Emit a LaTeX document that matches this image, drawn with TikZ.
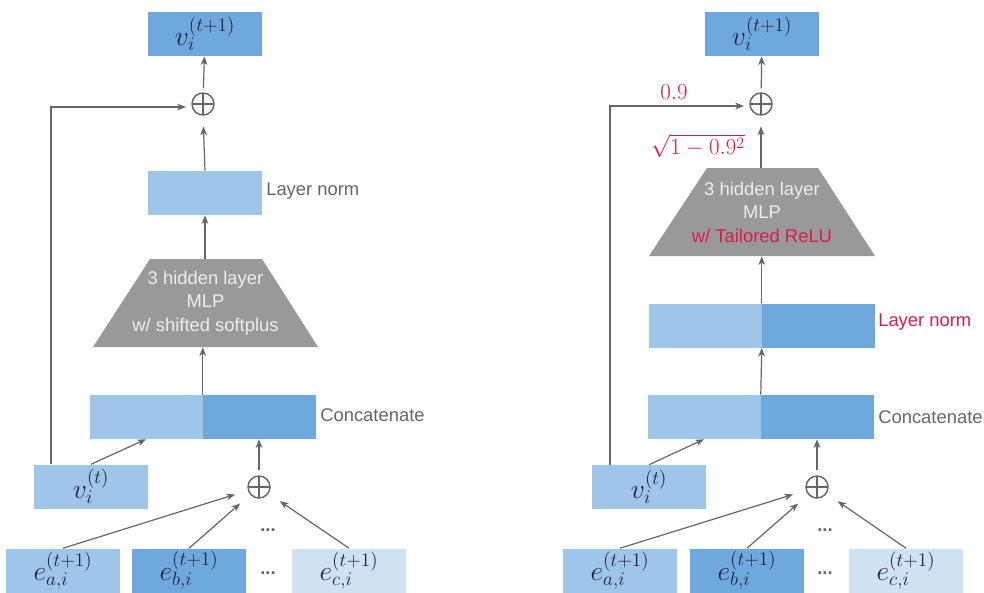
\documentclass[tikz,border=0pt]{standalone}
\usepackage[no-math]{fontspec}
\newfontfamily\labelfont{Liberation Sans}
\usetikzlibrary{arrows.meta}

\definecolor{dkblue}{HTML}{6FA8DC}
\definecolor{ltblue}{HTML}{9FC5E8}
\definecolor{paleblue}{HTML}{CFE2F3}
\definecolor{mlpgray}{HTML}{999999}
\definecolor{linegray}{HTML}{666666}
\definecolor{mathnavy}{HTML}{1C2440}
\definecolor{hlred}{HTML}{DC1A48}

\DeclareMathSizes{21.6}{21.6}{14.6}{12}

\tikzset{
  box/.style={rectangle, inner sep=0pt, minimum width=85.5pt, minimum height=33pt},
  halfbox/.style={rectangle, inner sep=0pt, minimum width=84.75pt, minimum height=33pt},
  mathtxt/.style={text=mathnavy, font=\fontsize{21.6}{26}\selectfont},
  redmath/.style={text=hlred, font=\fontsize{17.28}{21}\selectfont, inner sep=0pt},
  lbl/.style={text=linegray, font=\labelfont\fontsize{13.8}{16}\selectfont, anchor=west, inner sep=0pt},
  sum/.style={circle, draw=linegray, line width=1.1pt, minimum size=16.5pt, inner sep=0pt,
    path picture={
      \draw[linegray, line width=1.1pt] (path picture bounding box.north) -- (path picture bounding box.south);
      \draw[linegray, line width=1.1pt] (path picture bounding box.west) -- (path picture bounding box.east);
    }},
  mlptxt/.style={rectangle, minimum width=84pt, minimum height=66pt, inner sep=0pt, align=center,
    text=white!93!black, font=\labelfont\fontsize{13.8}{17.6}\selectfont},
  conn/.style={draw=linegray, line width=0.9pt, -{Stealth[length=6.5pt, width=5pt, inset=1.8pt]}},
  dots/.style={text=linegray, font=\labelfont\bfseries\fontsize{13.8}{16}\selectfont, inner sep=0pt},
}

\begin{document}
\begin{tikzpicture}[x=0.75pt, y=-0.75pt]
  \useasboundingbox (0,0) rectangle (984,592);

  % left panel
  \node[box, fill=dkblue, mathtxt] (vtopL) at (205,34) {$v_i^{(t+1)}$};
  \node[sum] (sumtL) at (203,104) {};
  \node[box, fill=ltblue] (lnL) at (205,193) {};
  \node[lbl] (lnlblL) at (266,191) {Layer norm};
  \fill[mlpgray] (150,259) -- (262,259) -- (318,347) -- (93,347) -- cycle;
  \node[mlptxt] (mlpL) at (205.5,303) {3 hidden layer\\MLP\\w/ shifted softplus};
  \node[halfbox, fill=ltblue] (cataL) at (146,417) {};
  \node[halfbox, fill=dkblue] (catbL) at (259,417) {};
  \node[lbl] (catlblL) at (320,415) {Concatenate};
  \node[box, fill=ltblue, mathtxt] (vtL) at (91,486.5) {$v_i^{(t)}$};
  \node[sum] (sumbL) at (259,487) {};
  \node[box, fill=ltblue, mathtxt] (eaL) at (63,570.5) {$e_{a,i}^{(t+1)}$};
  \node[box, fill=dkblue, mathtxt] (ebL) at (189,570.5) {$e_{b,i}^{(t+1)}$};
  \node[box, fill=paleblue, mathtxt] (ecL) at (349,570.5) {$e_{c,i}^{(t+1)}$};
  \node[dots] (dotsuL) at (268,530) {...};
  \node[dots] (dotsdL) at (268,573) {...};
  \coordinate (skipL) at (51,107);

  \draw[conn, shorten <=3pt] (sumtL) -- (vtopL);
  \draw[conn, shorten >=8pt] (lnL.north) -- (sumtL.south);
  \draw[conn] (mlpL.north -| lnL) -- (lnL.south);
  \draw[conn] (cataL.north east) -- (cataL.north east |- mlpL.south);
  \draw[conn] (vtL.north) -- (cataL.south);
  \draw[conn, shorten <=4pt] (sumbL) -- (catbL.south);
  \draw[conn, shorten >=10pt] (eaL.north) -- (sumbL);
  \draw[conn, shorten >=10pt] (ebL.north) -- (sumbL);
  \draw[conn, shorten >=10pt] (ecL.north) -- (sumbL);
  \draw[conn, shorten >=4pt] (vtL.north -| skipL) -- (skipL) -- (skipL -| sumtL.west);

  % right panel
  \begin{scope}[xshift=417.75pt]
    \node[box, fill=dkblue, mathtxt] (vtopR) at (205,34) {$v_i^{(t+1)}$};
    \node[sum] (sumtR) at (204,104) {};
    \fill[mlpgray] (150,168) -- (261,168) -- (318,256) -- (92,256) -- cycle;
    \node[mlptxt] (mlpR) at (205,212) {3 hidden layer\\MLP\\\textcolor{hlred}{w/ Tailored ReLU}};
    \node[halfbox, fill=ltblue] (lnaR) at (148,325.5) {};
    \node[halfbox, fill=dkblue] (lnbR) at (261,325.5) {};
    \node[lbl, text=hlred] (lnlblR) at (321,322) {Layer norm};
    \node[halfbox, fill=ltblue] (cataR) at (147,417) {};
    \node[halfbox, fill=dkblue] (catbR) at (260,417) {};
    \node[lbl] (catlblR) at (321,417) {Concatenate};
    \node[box, fill=ltblue, mathtxt] (vtR) at (92,487) {$v_i^{(t)}$};
    \node[sum] (sumbR) at (260,487) {};
    \node[box, fill=ltblue, mathtxt] (eaR) at (63,570.5) {$e_{a,i}^{(t+1)}$};
    \node[box, fill=dkblue, mathtxt] (ebR) at (190,570.5) {$e_{b,i}^{(t+1)}$};
    \node[box, fill=paleblue, mathtxt] (ecR) at (349,570.5) {$e_{c,i}^{(t+1)}$};
    \node[dots] (dotsuR) at (268,530) {...};
    \node[dots] (dotsdR) at (268,573) {...};
    \node[redmath] (wskipR) at (117,92) {$0.9$};
    \node[redmath] (wmlpR) at (141,146) {$\sqrt{1-0.9^2}$};
    \coordinate (skipR) at (53,106);

    \draw[conn, shorten <=3pt] (sumtR) -- (vtopR);
    \draw[conn, shorten >=8pt] (mlpR.north -| sumtR) -- (sumtR.south);
    \draw[conn] (lnaR.north east) -- (lnaR.north east |- mlpR.south);
    \draw[conn] (cataR.north east) -- (lnaR.south east);
    \draw[conn] (vtR.north) -- (cataR.south);
    \draw[conn, shorten <=4pt] (sumbR) -- (catbR.south);
    \draw[conn, shorten >=10pt] (eaR.north) -- (sumbR);
    \draw[conn, shorten >=10pt] (ebR.north) -- (sumbR);
    \draw[conn, shorten >=10pt] (ecR.north) -- (sumbR);
    \draw[conn, shorten >=4pt] (vtR.north -| skipR) -- (skipR) -- (skipR -| sumtR.west);
  \end{scope}
\end{tikzpicture}
\end{document}
